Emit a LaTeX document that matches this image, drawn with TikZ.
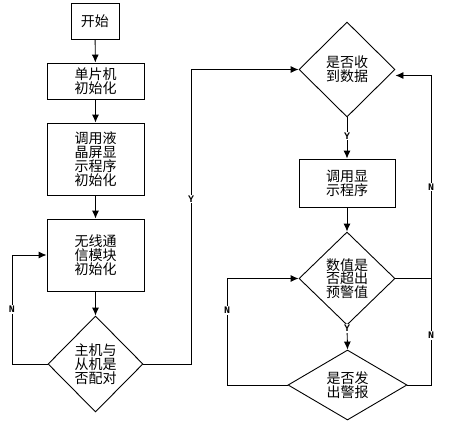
\documentclass[tikz,border=0pt]{standalone}
\usepackage{fontspec}
\newfontfamily\cjk{Noto Sans CJK SC}
\newfontfamily\labfont{Liberation Mono}
\usetikzlibrary{shapes.geometric,arrows.meta}
\tikzset{
  procbox/.style={draw, rectangle, inner sep=0pt, align=center, font=\cjk\fontsize{14}{13.8}\selectfont},
  judge/.style={draw, diamond, inner sep=0pt, align=center, font=\cjk\fontsize{14}{13.8}\selectfont},
  lab/.style={fill=white, inner sep=1pt, font=\labfont\bfseries\fontsize{10}{10}\selectfont}
}
\begin{document}
\begin{tikzpicture}[x=1pt, y=-1pt, line width=0.9pt, >={Latex[length=8pt,width=7pt]}]
\useasboundingbox (0,0) rectangle (456,421);

% left column
\node[procbox, minimum width=48, minimum height=36] (start) at (95,21) {开始};
\node[procbox, minimum width=97, minimum height=36] (mcu) at (95.5,81) {单片机\\初始化};
\node[procbox, minimum width=97, minimum height=72] (lcd) at (95.5,159) {调用液\\晶屏显\\示程序\\初始化};
\node[procbox, minimum width=97, minimum height=72] (rf) at (95.5,255) {无线通\\信模块\\初始化};
\node[judge, minimum width=95, minimum height=96] (pair) at (95.5,364) {主机与\\从机是\\否配对};

% right column
\node[judge, minimum width=96, minimum height=95] (recv) at (347,69.5) {是否收\\到数据};
\node[procbox, minimum width=96, minimum height=48] (disp) at (347,183) {调用显\\示程序};
\node[judge, minimum width=96, minimum height=93] (over) at (347,278.5) {数值是\\否超出\\预警值};
\node[judge, minimum width=119, minimum height=70] (alarm) at (347.5,385) {是否发\\出警报};

\coordinate (nbus) at (12,0);
\coordinate (ybus) at (191,0);
\coordinate (lbus) at (227,0);
\coordinate (rbus) at (431,0);

\draw[->] (start) -- (mcu);
\draw[->] (mcu) -- (lcd);
\draw[->] (lcd) -- (rf);
\draw[->] (rf) -- (pair);
\draw[->] (pair.west) -- (pair.west -| nbus) |- node[lab, pos=0.25] {N} (rf.west);
\draw[->] (pair.east) -- (pair.east -| ybus) |- node[lab, pos=0.28] {Y} (recv.west);

\draw[->] (recv.south) -- node[lab, pos=0.45] {Y} (disp.north);
\draw[->] (disp) -- (over.north);
\draw[->] (over.south) -- node[lab, pos=0.12] {Y} (alarm.north);
\draw[->] (alarm.west) -- (alarm.west -| lbus) |- node[lab, pos=0.35] {N} (over.west);
\draw[->] (alarm.east) -- (alarm.east -| rbus) |- node[lab, pos=0.08] {N} node[lab, pos=0.32] {N} ([yshift=-6pt]recv.east);
\draw (over.east) -- (over.east -| rbus);

\end{tikzpicture}
\end{document}
